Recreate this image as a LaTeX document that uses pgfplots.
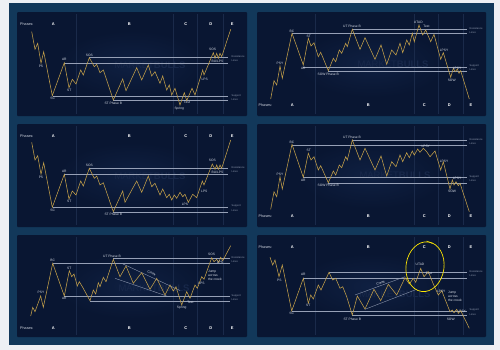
\documentclass[border=0pt]{standalone}
\usepackage{fontspec}
\setmainfont{Liberation Sans}
\usepackage{pgfplots}
\pgfplotsset{compat=1.18}
\definecolor{outerbg}{RGB}{238,240,244}
\definecolor{framec}{RGB}{18,56,90}
\definecolor{panelbg}{RGB}{9,22,50}
\definecolor{panelin}{RGB}{15,32,66}
\definecolor{gold}{RGB}{196,160,74}
\definecolor{hline}{RGB}{150,160,182}
\definecolor{sepc}{RGB}{26,42,74}
\definecolor{lblc}{RGB}{215,220,230}
\definecolor{rlc}{RGB}{140,150,172}
\definecolor{wm}{RGB}{24,40,74}
\pgfplotsset{
  panel/.style={anchor=north west, scale only axis, y dir=reverse, hide axis, clip=false},
}
\tikzset{
  lbl/.style={font=\fontsize{3.3}{3.8}\selectfont, text=lblc, inner sep=0pt},
  ph/.style={font=\fontsize{4}{4.5}\selectfont\bfseries, text=white, inner sep=0pt},
  phs/.style={font=\fontsize{3.7}{4.2}\selectfont, text=lblc, inner sep=0pt, anchor=west},
  rl/.style={font=\fontsize{2.6}{3}\selectfont, text=rlc, anchor=west, inner sep=0pt},
  wmk/.style={font=\fontsize{9.5}{10}\selectfont, text=wm, inner sep=0pt},
}
\begin{document}
\begin{tikzpicture}
\fill[outerbg] (0,0) rectangle (500bp,-350bp);
\fill[framec] (9bp,-3bp) rectangle (494bp,-345bp);
\foreach \x/\y/\w/\h in {17/12/230/104, 257/12/229/104, 17/124/230/103, 257/124/229/103, 17/235/230/102, 257/235/229/102}{
  \fill[panelbg, rounded corners=1bp] (\x bp,-\y bp) rectangle ++(\w bp,-\h bp);
  \shade[inner color=panelin, outer color=panelbg] ({\x bp+0.5*\w bp-0.32*\w bp},{-\y bp-0.5*\h bp+0.32*\h bp}) rectangle ({\x bp+0.5*\w bp+0.32*\w bp},{-\y bp-0.5*\h bp-0.32*\h bp});
}

% ---------- Panel 1: accumulation ----------
\begin{axis}[panel, at={(17bp,-12bp)}, width=230bp, height=104bp, xmin=17, xmax=247, ymin=12, ymax=116]
\node[wmk] at (axis cs:150,65) {MARKET\textbf{BULLS}};
\foreach \s in {76,173.3,196.7,222.7}{\edef\tmp{\noexpand\addplot[sepc, line width=0.4bp] coordinates {(\s,14)(\s,114)};}\tmp}
\addplot[hline, line width=0.35bp] coordinates {(89.3,57.3)(228,57.3)};
\addplot[hline, line width=0.35bp] coordinates {(64.3,62.7)(228,62.7)};
\addplot[hline, line width=0.35bp] coordinates {(53,96)(228,96)};
\addplot[hline, line width=0.35bp] coordinates {(113.3,100.3)(228,100.3)};
\addplot[gold, line width=0.55bp] coordinates {
(31.7,31.7)(35,49.3)(37.7,43.3)(41,63.3)(43.7,51.7)(52.3,95.7)(64.3,62.7)(69,87.7)(72.3,79.3)(76,84)(80.7,70)(83.3,75)(89.3,57.7)(94.3,66.7)(96.7,64.3)(100,72.7)(103.3,70)(113.3,100)(122.7,79)(126,90.7)(136.7,67.7)(141.7,80)(148.3,65)(151.7,76)(155,71.7)(160,83.3)(162.7,76)(166.7,90)(169.3,85)(171.7,95)(175,88.3)(180,105)(184.3,92.7)(186.7,100.7)(192,88.3)(195,95)(202.7,70)(204,75)(213.3,52.7)(215,58.3)(216.7,53.3)(218.3,58.3)(220,53.3)(221.7,56.7)(230.7,29.3)};
\node[phs] at (axis cs:20,24) {Phases:};
\node[ph] at (axis cs:53.3,24) {A};
\node[ph] at (axis cs:129.3,24) {B};
\node[ph] at (axis cs:185.7,24) {C};
\node[ph] at (axis cs:210.7,24) {D};
\node[ph] at (axis cs:232.3,24) {E};
\node[rl] at (axis cs:231.5,56.8) {Resistance};
\node[rl] at (axis cs:231.5,60.8) {Lines};
\node[rl] at (axis cs:231.5,95.5) {Support};
\node[rl] at (axis cs:231.5,99.5) {Lines};
\node[lbl] at (axis cs:41,66.7) {PS};
\node[lbl] at (axis cs:64.3,59.8) {AR};
\node[lbl] at (axis cs:89.3,55) {SOS};
\node[lbl] at (axis cs:69.3,90.3) {ST};
\node[lbl] at (axis cs:52.7,98.8) {SC};
\node[lbl] at (axis cs:113.3,103) {ST Phase B};
\node[lbl] at (axis cs:179.3,108.3) {Spring};
\node[lbl] at (axis cs:187,102) {Test};
\node[lbl] at (axis cs:204.7,79.3) {LPS};
\node[lbl] at (axis cs:212.7,49.3) {SOS};
\node[lbl] at (axis cs:217.5,61.7) {BU/LPS};
\end{axis}

% ---------- Panel 2: distribution ----------
\begin{axis}[panel, at={(257bp,-12bp)}, width=229bp, height=104bp, xmin=257, xmax=486, ymin=12, ymax=116]
\node[wmk] at (axis cs:393,64) {MARKET\textbf{BULLS}};
\foreach \s in {315,414.3,438.3,463.3}{\edef\tmp{\noexpand\addplot[sepc, line width=0.4bp] coordinates {(\s,14)(\s,114)};}\tmp}
\addplot[hline, line width=0.35bp] coordinates {(352.3,29.3)(466.7,29.3)};
\addplot[hline, line width=0.35bp] coordinates {(292,33.3)(466.7,33.3)};
\addplot[hline, line width=0.35bp] coordinates {(303.3,66.7)(466.7,66.7)};
\addplot[hline, line width=0.35bp] coordinates {(328.3,71)(466.7,71)};
\addplot[gold, line width=0.55bp] coordinates {
(270.7,99)(274,80.7)(276.7,85)(280,66)(282.3,78.3)(292,33.3)(303.3,65)(308.3,38.3)(311,46)(314,42.7)(318.3,56.7)(320.7,52.3)(328.3,70.7)(333.3,58.3)(335.7,61.7)(339.3,50)(341.7,53.3)(345.7,43.3)(347.3,46.7)(352.3,29.3)(360,49.3)(365,37.7)(375,59.3)(381,45)(386.7,64.3)(391.7,50)(396,55)(400,43.3)(402.7,52.7)(406.7,40)(409.3,45)(412.3,33.3)(414.3,41.7)(419,25)(422.7,35)(425.7,30)(430.7,41.7)(434,34.3)(440.7,59.3)(443.3,52.7)(450.7,77.3)(453.3,68.3)(455.3,71.7)(457.3,69)(459,73.3)(460.7,70.7)(469.3,99)};
\node[phs] at (axis cs:258.5,105) {Phases:};
\node[ph] at (axis cs:292.3,105) {A};
\node[ph] at (axis cs:368.3,105) {B};
\node[ph] at (axis cs:424.3,105) {C};
\node[ph] at (axis cs:449.3,105) {D};
\node[ph] at (axis cs:471,105) {E};
\node[rl] at (axis cs:469.5,28.3) {Resistance};
\node[rl] at (axis cs:469.5,32.3) {Lines};
\node[rl] at (axis cs:469.5,66) {Support};
\node[rl] at (axis cs:469.5,70) {Lines};
\node[lbl] at (axis cs:280,63.3) {PSY};
\node[lbl] at (axis cs:292,31) {BC};
\node[lbl] at (axis cs:308.7,36) {ST};
\node[lbl] at (axis cs:303.3,68.3) {AR};
\node[lbl] at (axis cs:328.3,74) {SOW Phase B};
\node[lbl] at (axis cs:352,26.7) {UT Phase B};
\node[lbl] at (axis cs:418.3,22.7) {UTAD};
\node[lbl] at (axis cs:426.5,26.7) {Test};
\node[lbl] at (axis cs:444,50) {LPSY};
\node[lbl] at (axis cs:451.7,80) {SOW};
\node[lbl] at (axis cs:457,68) {LPSY};
\end{axis}

% ---------- Panel 3: accumulation (LPS) ----------
\begin{axis}[panel, at={(17bp,-124bp)}, width=230bp, height=103bp, xmin=17, xmax=247, ymin=124, ymax=227]
\node[wmk] at (axis cs:150,176.7) {MARKET\textbf{BULLS}};
\foreach \s in {76,173.3,196.7,222.7}{\edef\tmp{\noexpand\addplot[sepc, line width=0.4bp] coordinates {(\s,126)(\s,225)};}\tmp}
\addplot[hline, line width=0.35bp] coordinates {(89.3,168.3)(228,168.3)};
\addplot[hline, line width=0.35bp] coordinates {(64.3,174)(228,174)};
\addplot[hline, line width=0.35bp] coordinates {(53,206.7)(228,206.7)};
\addplot[hline, line width=0.35bp] coordinates {(113.3,211.7)(228,211.7)};
\addplot[gold, line width=0.55bp] coordinates {
(31.7,142.3)(35,160)(37.7,155.7)(41,174.3)(43.7,162.7)(52.3,207.3)(64.3,174.3)(69,199)(72.3,191)(76,195)(80.7,181)(83.3,186)(89.3,168.3)(94.3,178.3)(96.7,176)(100,185)(103.3,182.7)(113.3,211.7)(122.7,191)(125,202.3)(136.7,181)(141.7,192.3)(148.3,176)(151.7,186.7)(155,183.3)(160,195)(162.7,189)(166.7,197.7)(169.3,194.3)(171.7,200)(174.3,195)(176.7,198.3)(180,192.3)(182.7,196.7)(185,194.3)(188.3,202.3)(192.7,194.3)(196.7,197.7)(202.3,181)(204,185)(212.3,164)(215,169.3)(216.7,165)(218.3,169.3)(220,165)(221.7,168.3)(230.7,140)};
\node[phs] at (axis cs:20,135.7) {Phases:};
\node[ph] at (axis cs:53.3,135.7) {A};
\node[ph] at (axis cs:129.3,135.7) {B};
\node[ph] at (axis cs:185.7,135.7) {C};
\node[ph] at (axis cs:210.7,135.7) {D};
\node[ph] at (axis cs:232.3,135.7) {E};
\node[rl] at (axis cs:231.5,167.8) {Resistance};
\node[rl] at (axis cs:231.5,171.8) {Lines};
\node[rl] at (axis cs:231.5,206.2) {Support};
\node[rl] at (axis cs:231.5,210.2) {Lines};
\node[lbl] at (axis cs:41,177.7) {PS};
\node[lbl] at (axis cs:64.3,171.5) {AR};
\node[lbl] at (axis cs:89.3,165.8) {SOS};
\node[lbl] at (axis cs:69.3,201.5) {ST};
\node[lbl] at (axis cs:52.7,210.2) {SC};
\node[lbl] at (axis cs:113.3,214.5) {ST Phase B};
\node[lbl] at (axis cs:185,204.6) {LPS};
\node[lbl] at (axis cs:204.3,191) {LPS};
\node[lbl] at (axis cs:212.3,160.7) {SOS};
\node[lbl] at (axis cs:217.5,172.3) {BU/LPS};
\end{axis}

% ---------- Panel 4: distribution (LPSY) ----------
\begin{axis}[panel, at={(257bp,-124bp)}, width=229bp, height=103bp, xmin=257, xmax=486, ymin=124, ymax=227]
\node[wmk] at (axis cs:395,175) {MARKET\textbf{BULLS}};
\foreach \s in {315,414.3,438.3,463.3}{\edef\tmp{\noexpand\addplot[sepc, line width=0.4bp] coordinates {(\s,126)(\s,225)};}\tmp}
\addplot[hline, line width=0.35bp] coordinates {(352.3,140)(466.7,140)};
\addplot[hline, line width=0.35bp] coordinates {(292,145)(466.7,145)};
\addplot[hline, line width=0.35bp] coordinates {(303.3,177.3)(466.7,177.3)};
\addplot[hline, line width=0.35bp] coordinates {(328.3,183.3)(466.7,183.3)};
\addplot[gold, line width=0.55bp] coordinates {
(270.7,209.3)(274,191.7)(276.7,196.7)(280,176.7)(282.3,189)(292,144.3)(303.3,177.3)(308.3,153.3)(311,160)(314,156.7)(318.3,170)(320.7,165.7)(328.3,182.7)(333.3,171)(335.7,175)(339.3,165)(341.7,167.7)(345.7,156.7)(347.3,160)(352.3,140)(360,160)(365,148.3)(375,170)(381,156)(386.7,176)(391.7,161.7)(396,166.7)(400,155)(402.7,161.7)(406.7,152.7)(409.3,157.7)(412.3,151)(414.3,155)(417.7,149)(420,152.3)(423.3,148.3)(426.7,151.7)(430,156.7)(435,151)(440.7,170)(443.3,161.7)(450,189)(452.3,180)(454,185)(456,181.7)(458.3,185.7)(460,183.3)(469.3,211.7)};
\node[phs] at (axis cs:258.5,216) {Phases:};
\node[ph] at (axis cs:292.3,216) {A};
\node[ph] at (axis cs:368.3,216) {B};
\node[ph] at (axis cs:424.3,216) {C};
\node[ph] at (axis cs:449.3,216) {D};
\node[ph] at (axis cs:471,216) {E};
\node[rl] at (axis cs:469.5,139.3) {Resistance};
\node[rl] at (axis cs:469.5,143.3) {Lines};
\node[rl] at (axis cs:469.5,177) {Support};
\node[rl] at (axis cs:469.5,181) {Lines};
\node[lbl] at (axis cs:280,174.3) {PSY};
\node[lbl] at (axis cs:292,142) {BC};
\node[lbl] at (axis cs:308.7,150.5) {ST};
\node[lbl] at (axis cs:303.3,180) {AR};
\node[lbl] at (axis cs:328.3,185.7) {SOW Phase B};
\node[lbl] at (axis cs:352,137.5) {UT Phase B};
\node[lbl] at (axis cs:425.7,146.3) {LPSY};
\node[lbl] at (axis cs:444,161.7) {LPSY};
\node[lbl] at (axis cs:452,191.5) {SOW};
\node[lbl] at (axis cs:457,178.3) {LPSY};
\end{axis}

% ---------- Panel 5: re-accumulation ----------
\begin{axis}[panel, at={(17bp,-235bp)}, width=230bp, height=102bp, xmin=17, xmax=247, ymin=235, ymax=337]
\node[wmk] at (axis cs:154,288) {MARKET\textbf{BULLS}};
\foreach \s in {76,173.3,196.7,222.7}{\edef\tmp{\noexpand\addplot[sepc, line width=0.4bp] coordinates {(\s,237)(\s,335)};}\tmp}
\addplot[hline, line width=0.35bp] coordinates {(113.3,258.3)(230,258.3)};
\addplot[hline, line width=0.35bp] coordinates {(52.7,263.3)(230,263.3)};
\addplot[hline, line width=0.35bp] coordinates {(64.3,295.7)(230,295.7)};
\addplot[hline, line width=0.35bp] coordinates {(90,301)(230,301)};
\addplot[hline, line width=0.35bp] coordinates {(122,263.5)(180,290.5)};
\addplot[hline, line width=0.35bp] coordinates {(115,278.3)(166.7,296)};
\addplot[gold, line width=0.55bp] coordinates {
(30.7,316)(32.7,307.3)(35,311.7)(40.7,296)(43.3,307.3)(52.7,263.3)(64.3,296)(69.3,270.7)(71.7,276.7)(74,274)(77.3,286)(79.3,281.7)(82.7,287.3)(90,300.7)(93.3,290)(95.7,294)(98.3,282.7)(100,286.7)(103.3,277.3)(106,281.7)(113.3,259.3)(120,276.7)(126,266)(133.3,283.3)(141.7,272.7)(150,289.3)(156.7,278.3)(165,295)(170,285)(173.3,291)(176,286.7)(181.7,305)(186.7,291.7)(190,298.3)(195,285)(197.3,288.3)(201.7,276.7)(204,279.3)(211.7,257.7)(214,261.7)(216.7,259.3)(218.7,262.3)(220.7,257.3)(222.7,260.7)(230.7,245.7)};
\node[phs] at (axis cs:20,327.7) {Phases:};
\node[ph] at (axis cs:53.3,327.7) {A};
\node[ph] at (axis cs:129.3,327.7) {B};
\node[ph] at (axis cs:185.7,327.7) {C};
\node[ph] at (axis cs:210.7,327.7) {D};
\node[ph] at (axis cs:232.3,327.7) {E};
\node[rl] at (axis cs:231.5,257.8) {Resistance};
\node[rl] at (axis cs:231.5,261.8) {Lines};
\node[rl] at (axis cs:231.5,295.5) {Support};
\node[rl] at (axis cs:231.5,299.5) {Lines};
\node[lbl] at (axis cs:41,292.3) {PSY};
\node[lbl] at (axis cs:52.7,260.5) {BC};
\node[lbl] at (axis cs:64.3,298.8) {AR};
\node[lbl] at (axis cs:69.3,268) {ST};
\node[lbl] at (axis cs:112,256) {UT Phase B};
\node[lbl, rotate=-25] at (axis cs:151.7,273.3) {Creek};
\node[lbl] at (axis cs:181.7,308) {Spring};
\node[lbl] at (axis cs:190.5,302.7) {Test};
\node[lbl] at (axis cs:201.5,283.3) {LPS};
\node[lbl] at (axis cs:211.7,254.3) {SOS};
\node[lbl] at (axis cs:220,262) {LPS};
\node[lbl, anchor=west] at (axis cs:208,272) {Jump};
\node[lbl, anchor=west] at (axis cs:208,275.7) {across};
\node[lbl, anchor=west] at (axis cs:208,279.4) {the creek};
\end{axis}

% ---------- Panel 6: re-distribution ----------
\begin{axis}[panel, at={(257bp,-235bp)}, width=229bp, height=102bp, xmin=257, xmax=486, ymin=235, ymax=337]
\node[wmk] at (axis cs:395,294) {MARKET\textbf{BULLS}};
\foreach \s in {315,414.3,438.3,463.3}{\edef\tmp{\noexpand\addplot[sepc, line width=0.4bp] coordinates {(\s,237)(\s,335)};}\tmp}
\addplot[hline, line width=0.35bp] coordinates {(329,272.3)(466.7,272.3)};
\addplot[hline, line width=0.35bp] coordinates {(303.3,277.7)(466.7,277.7)};
\addplot[hline, line width=0.35bp] coordinates {(291.7,310.7)(466.7,310.7)};
\addplot[hline, line width=0.35bp] coordinates {(352.3,315.3)(466.7,315.3)};
\addplot[hline, line width=0.35bp] coordinates {(355,295)(405,276.7)};
\addplot[hline, line width=0.35bp] coordinates {(365,309.3)(416.7,289.3)};
\addplot[gold, line width=0.55bp] coordinates {
(270,257.3)(272.7,265)(275,260)(279,276.7)(282.3,265)(291.7,311)(303.3,278.3)(308.3,303.3)(310.7,295)(313.3,299)(318.3,285)(321,290)(324,283.3)(329,272.3)(332.7,280)(335.7,278.3)(340,288.3)(342.7,286.7)(346.7,296.7)(352.3,315)(357.3,296)(365,309)(374,289.3)(380.7,300.7)(388.3,284.3)(396.7,295)(405,277.7)(409.3,284)(413.3,278.3)(415.7,282.3)(420.7,268.3)(424,276.7)(428.3,271.7)(433.3,284)(438.3,295)(441.7,290.7)(450,311.7)(452.3,310)(454,312.7)(456.7,309.3)(458.3,313.3)(460.7,310.7)(469.3,328.3)};
\node[phs] at (axis cs:258.5,246.7) {Phases:};
\node[ph] at (axis cs:292.3,246.7) {A};
\node[ph] at (axis cs:368.3,246.7) {B};
\node[ph] at (axis cs:424.3,246.7) {C};
\node[ph] at (axis cs:449.3,246.7) {D};
\node[ph] at (axis cs:471,246.7) {E};
\node[rl] at (axis cs:469.5,271.8) {Resistance};
\node[rl] at (axis cs:469.5,275.8) {Lines};
\node[rl] at (axis cs:469.5,310.2) {Support};
\node[rl] at (axis cs:469.5,314.2) {Lines};
\node[lbl] at (axis cs:279.3,280.5) {PS};
\node[lbl] at (axis cs:291.7,313.8) {SC};
\node[lbl] at (axis cs:303.3,274.5) {AR};
\node[lbl] at (axis cs:308.3,305.8) {ST};
\node[lbl] at (axis cs:352.3,319.5) {ST Phase B};
\node[lbl, rotate=20] at (axis cs:380.7,283) {Creek};
\node[lbl] at (axis cs:420,264.8) {UTAD};
\node[lbl] at (axis cs:429,273.5) {Test};
\node[lbl] at (axis cs:441.2,291.3) {LPSY};
\node[lbl, anchor=west] at (axis cs:448,292.5) {Jump};
\node[lbl, anchor=west] at (axis cs:448,296.2) {across};
\node[lbl, anchor=west] at (axis cs:448,299.9) {the creek};
\node[lbl] at (axis cs:450.7,319.5) {SOW};
\node[lbl] at (axis cs:461.7,311.7) {LPSY};
\end{axis}

% hand-drawn yellow highlight
\draw[yellow!90!orange, line width=0.7bp, rotate around={-8:(425bp,-266.7bp)}] (425bp,-266.7bp) ellipse [x radius=19bp, y radius=25bp];
\draw[yellow!90!orange, line width=0.6bp] (426.5bp,-241bp) -- (432.5bp,-243.5bp);
\end{tikzpicture}
\end{document}
